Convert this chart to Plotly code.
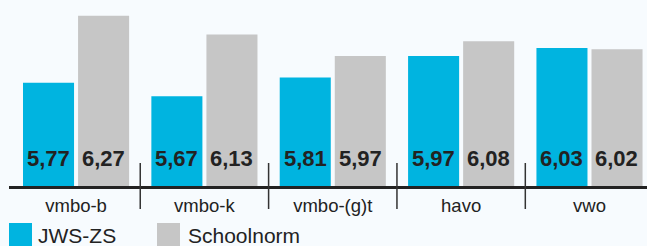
import plotly.graph_objects as go

categories = ["vmbo-b", "vmbo-k", "vmbo-(g)t", "havo", "vwo"]
series_names = ["JWS-ZS", "Schoolnorm"]
jws_zs = [5.77, 5.67, 5.81, 5.97, 6.03]
schoolnorm = [6.27, 6.13, 5.97, 6.08, 6.02]
value_labels_jws = ["5,77", "5,67", "5,81", "5,97", "6,03"]
value_labels_norm = ["6,27", "6,13", "5,97", "6,08", "6,02"]

BLUE = "#00b4e0"
GRAY = "#c6c6c6"
DARK = "#222222"
BG = "#f7fbfe"
FONT = "Liberation Sans, Arial, Helvetica, sans-serif"

W, H = 647, 246
ML, MR, MT, MB = 9, 0, 0, 60
plot_h = H - MT - MB
plot_w = W - ML - MR
Y0 = 5.0
px_per_unit = 134.0
Y1 = Y0 + plot_h / px_per_unit

fig = go.Figure()
fig.add_trace(go.Bar(x=categories, y=jws_zs, name=series_names[0],
                     marker=dict(color=BLUE, line=dict(width=0)),
                     showlegend=False))
fig.add_trace(go.Bar(x=categories, y=schoolnorm, name=series_names[1],
                     marker=dict(color=GRAY, line=dict(width=0)),
                     showlegend=False))

annotations = []
slot_shift = 27.5
for cat, lab in zip(categories, value_labels_jws):
    annotations.append(dict(x=cat, y=Y0, xref="x", yref="y", text=lab,
                            showarrow=False, xshift=-slot_shift, yshift=28,
                            yanchor="middle", xanchor="center",
                            font=dict(family=FONT, size=22, color=DARK, weight="bold")))
for cat, lab in zip(categories, value_labels_norm):
    annotations.append(dict(x=cat, y=Y0, xref="x", yref="y", text=lab,
                            showarrow=False, xshift=slot_shift, yshift=28,
                            yanchor="middle", xanchor="center",
                            font=dict(family=FONT, size=22, color=DARK, weight="bold")))

shapes = []
for i in range(len(categories) - 1):
    shapes.append(dict(type="line", xref="x", yref="paper",
                       x0=i + 0.5, x1=i + 0.5,
                       y0=(plot_h - 163 + MT) / plot_h, y1=-(209 - MT - plot_h) / plot_h,
                       line=dict(color="#333333", width=1.5)))

def px_x(p):
    return (p - ML) / plot_w

def px_y(p):
    return (MT + plot_h - p) / plot_h

legend_items = [(series_names[0], BLUE, 9, 37), (series_names[1], GRAY, 157, 187)]
for name, col, sx, tx in legend_items:
    shapes.append(dict(type="rect", xref="paper", yref="paper",
                       x0=px_x(sx), x1=px_x(sx + 23), y0=px_y(223), y1=px_y(250),
                       fillcolor=col, line=dict(width=0)))
    annotations.append(dict(x=px_x(tx - 1), y=px_y(235), xref="paper", yref="paper",
                            text=name, showarrow=False, xanchor="left", yanchor="middle",
                            font=dict(family=FONT, size=21, color=DARK)))

fig.update_layout(
    width=W, height=H,
    margin=dict(l=ML, r=MR, t=MT, b=MB, pad=0),
    paper_bgcolor=BG, plot_bgcolor=BG,
    barmode="group", bargap=0.142, bargroupgap=0.073,
    showlegend=False,
    annotations=annotations, shapes=shapes,
    xaxis=dict(type="category", range=[-0.5224, 4.448], showgrid=False,
               zeroline=False, showline=True, linecolor=DARK, linewidth=3,
               ticks="", tickfont=dict(family=FONT, size=18.5, color=DARK),
               ticklabelstandoff=1, fixedrange=True),
    yaxis=dict(range=[Y0, Y1], showgrid=False, zeroline=False, showline=False,
               showticklabels=False, ticks="", fixedrange=True),
)

fig.write_html("out.html", config={"displayModeBar": False},
               post_script="document.body.style.margin='0';document.body.style.background='" + BG + "';")
